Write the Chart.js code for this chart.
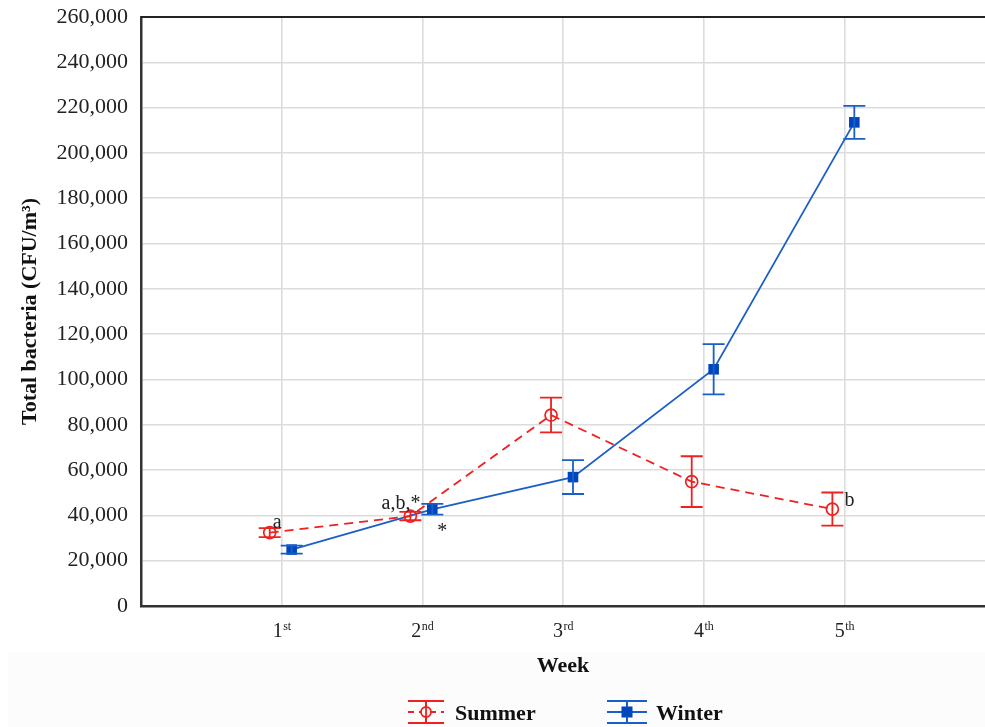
<!DOCTYPE html>
<html>
<head>
<meta charset="utf-8">
<script src="https://cdn.jsdelivr.net/npm/chart.js@4/dist/chart.umd.min.js"></script>
<style>
  html, body { margin: 0; padding: 0; background: #ffffff; }
  #wrap { width: 985px; height: 727px; }
</style>
</head>
<body>
<div id="wrap"><canvas id="c" width="985" height="727"></canvas></div>
<script>
// ---- data ----
const weekNums = ['1', '2', '3', '4', '5'];
const weekSups = ['st', 'nd', 'rd', 'th', 'th'];
const summerMean = [32400, 39700, 84300, 54900, 42800];
const summerErr  = [2000, 1850, 7650, 11200, 7300];
const winterMean = [24900, 42700, 56900, 104500, 213500];
const winterErr  = [1750, 2400, 7450, 11100, 7300];
const summerNotes = ['a', 'a,b,*', '', '', 'b'];
const winterNotes = ['', '*', '', '', ''];
const yMin = 0, yMax = 260000, yStep = 20000;
const seriesNames = ['Summer', 'Winter'];

const RED = '#ee2020';
const BLUE_LINE = '#1a5fc8';
const BLUE_MARK = '#0047bd';
const SERIF = '"Liberation Serif", "DejaVu Serif", serif';
const summerOffset = -0.085, winterOffset = 0.071;

const summerData = summerMean.map((v, i) => ({ x: i + 1 + summerOffset, y: v }));
const winterData = winterMean.map((v, i) => ({ x: i + 1 + winterOffset, y: v }));

const zeroPad = (scale) => {
  scale.paddingTop = 0; scale.paddingBottom = 0;
  scale.paddingLeft = 0; scale.paddingRight = 0;
};

const overlay = {
  id: 'overlay',
  beforeDraw(chart) {
    const ctx = chart.ctx;
    ctx.save();
    ctx.fillStyle = '#fcfcfc';
    ctx.fillRect(8, 652, chart.width - 8, chart.height - 652);
    ctx.restore();
  },
  afterDatasetsDraw(chart) {
    const ctx = chart.ctx;
    const xs = chart.scales.x, ys = chart.scales.y;
    const drawErr = (data, errs, color, cap) => {
      ctx.save();
      ctx.strokeStyle = color;
      ctx.lineWidth = 1.8;
      ctx.setLineDash([]);
      data.forEach((p, i) => {
        const px = xs.getPixelForValue(p.x);
        const yt = ys.getPixelForValue(p.y + errs[i]);
        const yb = ys.getPixelForValue(p.y - errs[i]);
        ctx.beginPath();
        ctx.moveTo(px, yt); ctx.lineTo(px, yb);
        ctx.moveTo(px - cap, yt); ctx.lineTo(px + cap, yt);
        ctx.moveTo(px - cap, yb); ctx.lineTo(px + cap, yb);
        ctx.stroke();
      });
      ctx.restore();
    };
    drawErr(summerData, summerErr, RED, 11);
    drawErr(winterData, winterErr, BLUE_LINE, 11);
  },
  afterDraw(chart) {
    const ctx = chart.ctx;
    const xs = chart.scales.x, ys = chart.scales.y;
    const area = chart.chartArea;
    ctx.save();
    // top border
    ctx.strokeStyle = '#222';
    ctx.lineWidth = 2;
    ctx.beginPath();
    ctx.moveTo(area.left, area.top); ctx.lineTo(area.right, area.top);
    ctx.stroke();

    // x tick labels with superscripts
    ctx.fillStyle = '#222';
    ctx.textBaseline = 'alphabetic';
    weekNums.forEach((n, i) => {
      const cx = xs.getPixelForValue(i + 1);
      ctx.font = '20px ' + SERIF;
      const w1 = ctx.measureText(n).width;
      ctx.font = '12px ' + SERIF;
      const w2 = ctx.measureText(weekSups[i]).width;
      const start = cx - (w1 + w2) / 2;
      ctx.font = '20px ' + SERIF;
      ctx.textAlign = 'left';
      ctx.fillText(n, start, area.bottom + 31);
      ctx.font = '12px ' + SERIF;
      ctx.fillText(weekSups[i], start + w1 + 0.5, area.bottom + 24);
    });

    // annotations
    ctx.font = '20px ' + SERIF;
    ctx.fillStyle = '#222';
    ctx.textBaseline = 'middle';
    summerData.forEach((p, i) => {
      const note = summerNotes[i];
      if (!note) return;
      const px = xs.getPixelForValue(p.x), py = ys.getPixelForValue(p.y);
      if (i === 0) { ctx.textAlign = 'left'; ctx.fillText(note, px + 3, py - 10); }
      else if (i === 1) { ctx.textAlign = 'right'; ctx.fillText(note, px + 10, py - 12); }
      else { ctx.textAlign = 'left'; ctx.fillText(note, px + 12, py - 8); }
    });
    winterData.forEach((p, i) => {
      const note = winterNotes[i];
      if (!note) return;
      const px = xs.getPixelForValue(p.x), py = ys.getPixelForValue(p.y);
      ctx.textAlign = 'left';
      ctx.fillText(note, px + 5, py + 22);
    });

    // legend
    const drawIcon = (x0, x1, cy, color, dashed, marker) => {
      ctx.strokeStyle = color;
      ctx.lineWidth = 2;
      ctx.setLineDash([]);
      const mx = (x0 + x1) / 2;
      ctx.beginPath();
      ctx.moveTo(x0, cy - 11); ctx.lineTo(x1, cy - 11);
      ctx.moveTo(x0, cy + 11); ctx.lineTo(x1, cy + 11);
      ctx.moveTo(mx, cy - 11); ctx.lineTo(mx, cy + 11);
      ctx.stroke();
      if (dashed) ctx.setLineDash([6, 5]);
      ctx.beginPath();
      ctx.moveTo(x0, cy); ctx.lineTo(x1, cy);
      ctx.stroke();
      ctx.setLineDash([]);
      if (marker === 'circle') {
        ctx.fillStyle = '#fcfcfc';
        ctx.beginPath(); ctx.arc(mx, cy, 5, 0, Math.PI * 2); ctx.fill();
        ctx.lineWidth = 1.8;
        ctx.stroke();
        ctx.beginPath(); ctx.moveTo(mx, cy - 5); ctx.lineTo(mx, cy + 5); ctx.stroke();
      } else {
        ctx.fillStyle = BLUE_MARK;
        ctx.fillRect(mx - 5.5, cy - 5.5, 11, 11);
      }
    };
    const legY = 712;
    drawIcon(408, 444, legY, RED, true, 'circle');
    drawIcon(607, 647, legY, BLUE_LINE, false, 'rect');
    ctx.fillStyle = '#111';
    ctx.font = 'bold 22px ' + SERIF;
    ctx.textAlign = 'left';
    ctx.textBaseline = 'middle';
    ctx.fillText(seriesNames[0], 455, legY + 2);
    ctx.fillText(seriesNames[1], 656, legY + 2);
    ctx.restore();
  }
};

new Chart(document.getElementById('c'), {
  type: 'line',
  data: {
    datasets: [
      {
        label: seriesNames[0],
        data: summerData,
        borderColor: RED,
        borderWidth: 1.8,
        borderDash: [9, 6],
        pointStyle: 'circle',
        pointRadius: 6,
        pointBackgroundColor: 'rgba(0,0,0,0)',
        pointBorderColor: RED,
        pointBorderWidth: 1.7,
        tension: 0,
        clip: false
      },
      {
        label: seriesNames[1],
        data: winterData,
        borderColor: BLUE_LINE,
        borderWidth: 1.8,
        pointStyle: 'rect',
        pointRadius: 7.5,
        pointBackgroundColor: BLUE_MARK,
        pointBorderColor: BLUE_MARK,
        pointBorderWidth: 0,
        tension: 0,
        clip: false
      }
    ]
  },
  options: {
    responsive: false,
    animation: false,
    devicePixelRatio: 1,
    layout: { autoPadding: false, padding: { top: 17, right: 0, left: 0, bottom: 0 } },
    plugins: { legend: { display: false }, tooltip: { enabled: false } },
    scales: {
      x: {
        type: 'linear',
        min: 0, max: 6,
        afterFit(scale) { scale.height = 121; zeroPad(scale); },
        ticks: { stepSize: 1, display: false },
        grid: {
          drawTicks: false,
          lineWidth: 1.6,
          color: (c) => (c.tick && (c.tick.value === 0 || c.tick.value === 6)) ? 'rgba(0,0,0,0)' : '#dcdcdc'
        },
        border: { display: true, color: '#333', width: 2.5 },
        title: {
          display: true,
          text: 'Week',
          color: '#111',
          font: { family: SERIF, size: 22, weight: 'bold' },
          padding: { top: 0, bottom: 47 }
        }
      },
      y: {
        min: yMin, max: yMax,
        afterFit(scale) { scale.width = 141; zeroPad(scale); },
        ticks: {
          stepSize: yStep,
          padding: 13,
          color: '#222',
          font: { family: SERIF, size: 22 },
          callback: (v) => v.toLocaleString('en-US')
        },
        grid: {
          drawTicks: false,
          lineWidth: 1.6,
          color: (c) => '#dcdcdc'
        },
        border: { display: true, color: '#333', width: 2.5 },
        title: {
          display: true,
          text: 'Total bacteria (CFU/m³)',
          color: '#111',
          font: { family: SERIF, size: 22, weight: 'bold' },
          padding: { top: 17, bottom: 0 }
        }
      }
    }
  },
  plugins: [overlay]
});
</script>
</body>
</html>
